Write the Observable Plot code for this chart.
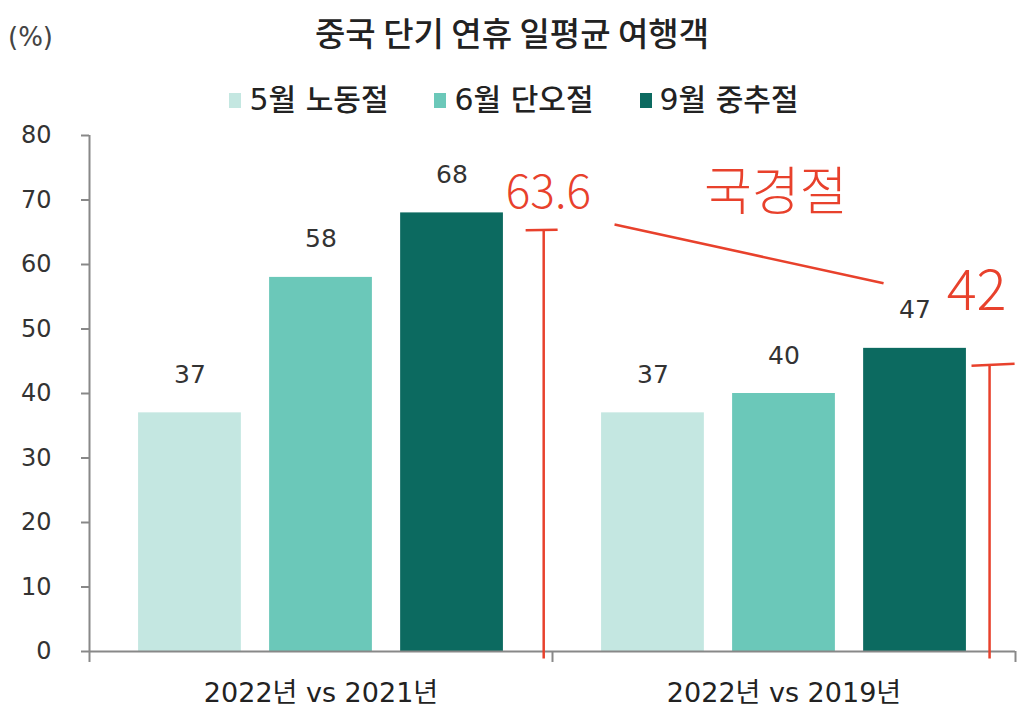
<!DOCTYPE html>
<html>
<head>
<meta charset="utf-8">
<script src="https://cdn.jsdelivr.net/npm/d3@7"></script>
<script src="https://cdn.jsdelivr.net/npm/@observablehq/plot@0.6"></script>
<style>
  html, body { margin: 0; padding: 0; background: #fff; }
  body { width: 1024px; height: 722px; overflow: hidden; font-family: "DejaVu Sans", "Noto Sans CJK KR", sans-serif; }
  #header { position: relative; height: 115px; width: 1024px; }
  #unit { position: absolute; left: 8px; top: 24px; font-size: 26px; line-height: 1; color: #444; }
  #title { position: absolute; left: 0; width: 1024px; top: 16px; text-align: center; font-size: 33px; line-height: 1; color: #222; font-family: "Noto Sans CJK KR", sans-serif; font-weight: 500; }
  #legend { position: absolute; left: 0; width: 1024px; top: 85px; display: flex; justify-content: center; gap: 46px; font-size: 30px; line-height: 30px; color: #222; padding-left: 4px; box-sizing: border-box; font-family: "DejaVu Sans", "Noto Sans CJK KR", sans-serif; font-weight: 500; }
  .item { display: flex; align-items: center; gap: 8px; }
  .sw { width: 12px; height: 15px; display: inline-block; }
</style>
</head>
<body>
<div id="header">
  <div id="unit">(%)</div>
  <div id="title"></div>
  <div id="legend"></div>
</div>
<div id="chart"></div>
<script>
// ---- data ----
const title = "중국 단기 연휴 일평균 여행객";
const groups = ["2022년 vs 2021년", "2022년 vs 2019년"];
const series = ["5월 노동절", "6월 단오절", "9월 중추절"];
const values2022vs2021 = [37, 58, 68];
const values2022vs2019 = [37, 40, 47];
const yTicks = [0, 10, 20, 30, 40, 50, 60, 70, 80];
const colors = ["#c4e7e1", "#6bc8b9", "#0c6a60"];
// hand-written annotations
const annoTexts = ["63.6", "국경절", "42"];

// ---- build table ----
const valuesByGroup = [values2022vs2021, values2022vs2019];
const rows = [];
groups.forEach((g, gi) => series.forEach((s, si) => rows.push({group: g, gi, series: s, si, value: valuesByGroup[gi][si]})));

// layout within each group (fraction of group width)
const outer = 0.106, step = 0.283, barW = 0.222;
rows.forEach(d => { d.x1 = d.gi + outer + d.si * step; d.x2 = d.x1 + barW; d.xc = (d.x1 + d.x2) / 2; });

document.getElementById("title").textContent = title;
const legend = document.getElementById("legend");
series.forEach((s, i) => {
  const it = document.createElement("div");
  it.className = "item";
  it.innerHTML = `<span class="sw" style="background:${colors[i]}"></span><span>${s}</span>`;
  legend.appendChild(it);
});

const red = "#e8412c";
const annoLabelPos = [
  {text: annoTexts[0], x: 0.991, y: 71.0, size: 46},
  {text: annoTexts[1], x: 1.482, y: 71.0, size: 52},
  {text: annoTexts[2], x: 1.916, y: 55.8, size: 56}
];
const annoLines = [
  {x1: 1.134, y1: 66.2, x2: 1.715, y2: 57.1},
  {x1: 0.981, y1: -1.1, x2: 0.981, y2: 65.3},
  {x1: 0.942, y1: 65.3, x2: 1.011, y2: 65.4},
  {x1: 1.944, y1: -1.1, x2: 1.944, y2: 44.3},
  {x1: 1.905, y1: 44.3, x2: 1.998, y2: 44.6}
];

const font = "'DejaVu Sans', 'Noto Sans CJK KR', sans-serif";
const chart = Plot.plot({
  width: 1024,
  height: 607,
  marginTop: 20,
  marginBottom: 71,
  marginLeft: 89,
  marginRight: 9,
  style: {fontFamily: font, background: "#fff"},
  x: {type: "linear", domain: [0, 2], axis: null},
  y: {domain: [0, 80], axis: null},
  marks: [
    Plot.rectY(rows, {x1: "x1", x2: "x2", y: "value", fill: d => colors[d.si]}),
    Plot.text(rows, {x: "xc", y: "value", text: d => String(d.value), dy: -38, fontSize: 25, fill: "#333"}),
    // y axis
    Plot.ruleX([0], {y1: 0, y2: 80, stroke: "#888", strokeWidth: 2}),
    Plot.axisY({ticks: yTicks, tickSize: 8, tickPadding: 30, fontSize: 24, stroke: "#888", strokeWidth: 2, color: "#333", label: null}),
    // x axis
    Plot.ruleY([0], {stroke: "#888", strokeWidth: 2}),
    Plot.ruleX([0, 1, 2], {x: d => d, y1: 0, y2: -1.7, stroke: "#888", strokeWidth: 2}),
    Plot.text(groups, {x: (d, i) => i + 0.5, y: 0, text: d => d, dy: 42, fontSize: 27, fill: "#222"}),
    // annotations
    Plot.link(annoLines, {x1: "x1", y1: "y1", x2: "x2", y2: "y2", stroke: red, strokeWidth: 2.5}),
    Plot.text(annoLabelPos, {x: "x", y: "y", text: "text", fontSize: d => d.size, fill: red, fontWeight: 300, fontFamily: "'Noto Sans CJK KR', sans-serif"})
  ]
});
document.getElementById("chart").appendChild(chart);
</script>
</body>
</html>
